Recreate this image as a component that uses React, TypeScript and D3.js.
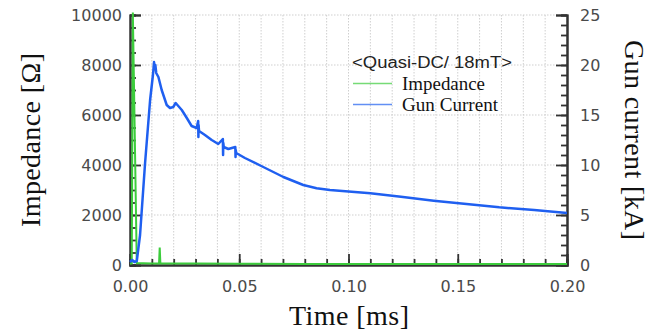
import React, { useRef, useEffect } from 'react';
import * as d3 from 'd3';

// time [ms] / impedance [Ohm]
const impTime = [0, 0.0008, 0.0013, 0.0031, 0.006, 0.01, 0.0133, 0.0136, 0.0139, 0.02, 0.03, 0.05, 0.08, 0.1, 0.15, 0.2];
const impValues = [50, 60, 10100, 70, 70, 65, 70, 700, 70, 60, 60, 50, 45, 40, 40, 40];

// time [ms] / gun current [kA]
const curTime = [
  0, 0.001, 0.002, 0.0031, 0.0046, 0.0069, 0.0092, 0.0105, 0.011, 0.0113, 0.0116, 0.012,
  0.013, 0.0145, 0.0168, 0.0183, 0.0198, 0.0209, 0.0221, 0.0237, 0.026, 0.0282, 0.0305,
  0.0312, 0.0313, 0.0314, 0.0316, 0.0343, 0.0374, 0.0404, 0.0425, 0.0426, 0.0427, 0.0429,
  0.045, 0.0482, 0.0483, 0.0484, 0.0486, 0.0526, 0.061, 0.0702, 0.0793, 0.0854, 0.0915,
  0.11, 0.124, 0.139, 0.154, 0.169, 0.185, 0.2,
];
const curValues = [
  0.3, 0.5, 0.3, 0.4, 3.0, 10.2, 16.5, 19.0, 20.3, 19.6, 20.0, 19.2,
  18.8, 17.5, 16.0, 15.7, 15.8, 16.2, 15.9, 15.5, 14.7, 13.9, 13.7,
  14.4, 12.8, 14.0, 13.4, 13.0, 12.5, 12.1, 12.6, 11.0, 12.2, 11.8,
  11.6, 11.8, 10.8, 11.5, 11.2, 10.7, 9.8, 8.8, 8.0, 7.67, 7.5,
  7.17, 6.83, 6.43, 6.1, 5.77, 5.5, 5.2,
];

const xTicks = [0, 0.05, 0.1, 0.15, 0.2];
const leftTicks = [0, 2000, 4000, 6000, 8000, 10000];
const rightTicks = [0, 5, 10, 15, 20, 25];
const legendTitle = '<Quasi-DC/ 18mT>';
const seriesNames = ['Impedance', 'Gun Current'];
const seriesColors = ['#3ccc3c', '#1f5ff0'];

const W = 665;
const H = 330;

const App = () => {
  const svgRef = useRef<SVGSVGElement>(null);

  useEffect(() => {
    const svg = d3.select(svgRef.current);
    svg.selectAll('*').remove();

    const x = d3.scaleLinear().domain([0, 0.2]).range([130, 567]);
    const yL = d3.scaleLinear().domain([0, 10000]).range([265, 15]);
    const yR = d3.scaleLinear().domain([0, 25]).range([265, 15]);

    const tickFont = '"DejaVu Sans", sans-serif';
    const serif = '"Liberation Serif", "Times New Roman", serif';

    // dotted grid
    const grid = svg.append('g');
    grid.selectAll('line.v')
      .data(x.ticks(20).slice(1))
      .enter()
      .append('line')
      .attr('x1', d => x(d)).attr('x2', d => x(d))
      .attr('y1', 15).attr('y2', 265)
      .attr('stroke', '#cfcfcf')
      .attr('stroke-dasharray', '1.5,1.5');
    grid.selectAll('line.h')
      .data(leftTicks.slice(1))
      .enter()
      .append('line')
      .attr('x1', 130).attr('x2', 567)
      .attr('y1', d => yL(d)).attr('y2', d => yL(d))
      .attr('stroke', '#cfcfcf')
      .attr('stroke-dasharray', '1.5,1.5');

    const styleAxis = (g: any) => {
      g.select('.domain').attr('stroke', '#333').attr('stroke-width', 2);
      g.selectAll('.tick line').attr('stroke', '#333').attr('stroke-width', 1.8);
      g.selectAll('.tick text')
        .attr('fill', '#4a4a4a')
        .style('font-family', tickFont)
        .style('font-size', '16px');
    };

    // minor ticks
    svg.append('g')
      .attr('transform', 'translate(130,0)')
      .call(d3.axisLeft(yL).tickValues(yL.ticks(20)).tickSize(-6).tickFormat(() => ''))
      .call(styleAxis);
    svg.append('g')
      .attr('transform', 'translate(567,0)')
      .call(d3.axisRight(yR).tickValues(d3.range(0, 26, 1)).tickSize(-6).tickFormat(() => ''))
      .call(styleAxis);
    svg.append('g')
      .attr('transform', 'translate(0,265)')
      .call(d3.axisBottom(x).tickValues(x.ticks(20)).tickSize(-6).tickFormat(() => ''))
      .call(styleAxis);

    // major ticks + labels
    svg.append('g')
      .attr('transform', 'translate(130,0)')
      .call(d3.axisLeft(yL).tickValues(leftTicks).tickSize(-11).tickPadding(8).tickFormat(d3.format('d')))
      .call(styleAxis);
    svg.append('g')
      .attr('transform', 'translate(567,0)')
      .call(d3.axisRight(yR).tickValues(rightTicks).tickSize(-11).tickPadding(13).tickFormat(d3.format('d')))
      .call(styleAxis);
    svg.append('g')
      .attr('transform', 'translate(0,265)')
      .call(d3.axisBottom(x).tickValues(xTicks).tickSize(-11).tickPadding(16).tickFormat(d3.format('.2f')))
      .call(styleAxis);

    // series
    const impLine = d3.line<number>()
      .x((_, i) => x(impTime[i]))
      .y(d => yL(d));
    const curLine = d3.line<number>()
      .x((_, i) => x(curTime[i]))
      .y(d => yR(d));

    svg.append('path')
      .attr('d', impLine(impValues))
      .attr('fill', 'none')
      .attr('stroke', seriesColors[0])
      .attr('stroke-width', 2);
    svg.append('path')
      .attr('d', curLine(curValues))
      .attr('fill', 'none')
      .attr('stroke', seriesColors[1])
      .attr('stroke-width', 2.5)
      .attr('stroke-linejoin', 'round');

    // legend
    svg.append('text')
      .attr('x', 352).attr('y', 68)
      .attr('textLength', 160)
      .attr('lengthAdjust', 'spacingAndGlyphs')
      .style('font-family', '"Liberation Sans", Arial, sans-serif')
      .style('font-size', '16px')
      .attr('fill', '#222')
      .text(legendTitle);

    const legend = svg.selectAll('g.legend')
      .data(seriesNames)
      .enter()
      .append('g')
      .attr('transform', (_, i) => `translate(0, ${83.5 + i * 21})`);
    legend.append('line')
      .attr('x1', 353).attr('x2', 392)
      .attr('stroke', (_, i) => seriesColors[i])
      .attr('stroke-opacity', 0.7)
      .attr('stroke-width', 1.6);
    legend.append('text')
      .attr('x', 402).attr('y', 6.5)
      .attr('textLength', (_, i) => (i === 0 ? 83 : 96))
      .attr('lengthAdjust', 'spacingAndGlyphs')
      .style('font-family', serif)
      .style('font-size', '18px')
      .attr('fill', '#111')
      .text(d => d);

    // axis titles
    svg.append('text')
      .attr('transform', 'translate(40,140) rotate(-90)')
      .attr('text-anchor', 'middle')
      .attr('textLength', 174)
      .style('font-family', serif)
      .style('font-size', '28px')
      .attr('fill', '#111')
      .text('Impedance [Ω]');
    svg.append('text')
      .attr('transform', 'translate(625,140) rotate(90)')
      .attr('text-anchor', 'middle')
      .attr('textLength', 200)
      .style('font-family', serif)
      .style('font-size', '28px')
      .attr('fill', '#111')
      .text('Gun current [kA]');
    svg.append('text')
      .attr('x', 349).attr('y', 325)
      .attr('text-anchor', 'middle')
      .attr('textLength', 120)
      .style('font-family', serif)
      .style('font-size', '28px')
      .attr('fill', '#111')
      .text('Time [ms]');
  }, []);

  return (
    <svg
      ref={svgRef}
      width={W}
      height={H}
      style={{ position: 'absolute', left: 0, top: 0, background: '#fff' }}
    ></svg>
  );
};

export default App;
